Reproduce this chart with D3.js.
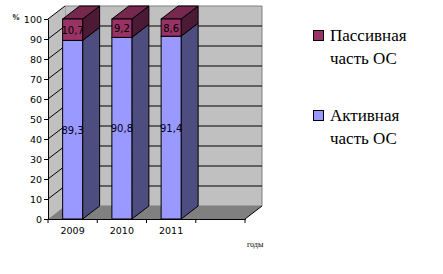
<!DOCTYPE html>
<html>
<head>
<meta charset="utf-8">
<script src="https://d3js.org/d3.v7.min.js"></script>
<style>
	body { margin:0; background:#fff; }
	svg { display:block; }
</style>
</head>
<body>
<div id="chart-area"></div>
<script>
// Data
var years = ["2009", "2010", "2011", ""];
var active = [89.3, 90.8, 91.4];
var passive = [10.7, 9.2, 8.6];
var activeLabels = ["89,3", "90,8", "91,4"];
var passiveLabels = ["10,7", "9,2", "8,6"];
var yTicks = [0, 10, 20, 30, 40, 50, 60, 70, 80, 90, 100];
var legendNames = [["Пассивная", "часть ОС"], ["Активная", "часть ОС"]];

var width = 443, height = 274;
var dx = 17, dy = -13; // 3D depth offset

var svg = d3.select("#chart-area")
	.append("svg")
		.attr("width", width)
		.attr("height", height);

var x = d3.scaleBand()
	.domain(years)
	.range([48, 245]);

var y = d3.scaleLinear()
	.domain([0, 100])
	.range([219, 19]);

var x0 = x.range()[0], x1 = x.range()[1];
var barW = 20;

function poly(pts) {
	return "M" + pts.map(function(p){ return p[0] + "," + p[1]; }).join("L") + "Z";
}

// back wall
svg.append("path")
	.attr("d", poly([[x0+dx, y(100)+dy], [x1+dx, y(100)+dy], [x1+dx, y(0)+dy], [x0+dx, y(0)+dy]]))
	.attr("fill", "#c0c0c0")
	.attr("stroke", "#808080");

// side wall
svg.append("path")
	.attr("d", poly([[x0, y(100)], [x0+dx, y(100)+dy], [x0+dx, y(0)+dy], [x0, y(0)]]))
	.attr("fill", "#c0c0c0");

// gridlines on the walls
yTicks.filter(function(t){ return t > 0 && t < 100; }).forEach(function(t){
	svg.append("line")
		.attr("x1", x0+dx).attr("x2", x1+dx)
		.attr("y1", y(t)+dy).attr("y2", y(t)+dy)
		.attr("stroke", "#000");
});
yTicks.filter(function(t){ return t > 0; }).forEach(function(t){
	svg.append("line")
		.attr("x1", x0).attr("x2", x0+dx)
		.attr("y1", y(t)).attr("y2", y(t)+dy)
		.attr("stroke", "#000");
});

// floor
svg.append("path")
	.attr("d", poly([[x0, y(0)], [x1, y(0)], [x1+dx, y(0)+dy], [x0+dx, y(0)+dy]]))
	.attr("fill", "#808080");
svg.append("line")
	.attr("x1", x1).attr("y1", y(0))
	.attr("x2", x1+dx).attr("y2", y(0)+dy)
	.attr("stroke", "#000");

// bars
years.slice(0, 3).forEach(function(yr, i){
	var bx = x(yr) + x.bandwidth()/2 - barW/2;
	var yA = y(active[i]), yT = y(active[i] + passive[i]), yB = y(0);
	var g = svg.append("g").attr("stroke", "#000").attr("stroke-width", 1);
	// active part
	g.append("path").attr("fill", "#4d4d80")
		.attr("d", poly([[bx+barW, yA], [bx+barW+dx, yA+dy], [bx+barW+dx, yB+dy], [bx+barW, yB]]));
	g.append("rect").attr("fill", "#9999ff")
		.attr("x", bx).attr("y", yA).attr("width", barW).attr("height", yB - yA);
	// passive part
	g.append("path").attr("fill", "#4d1a36")
		.attr("d", poly([[bx+barW, yT], [bx+barW+dx, yT+dy], [bx+barW+dx, yA+dy], [bx+barW, yA]]));
	g.append("path").attr("fill", "#77284f")
		.attr("d", poly([[bx, yT], [bx+barW, yT], [bx+barW+dx, yT+dy], [bx+dx, yT+dy]]));
	g.append("rect").attr("fill", "#993366")
		.attr("x", bx).attr("y", yT).attr("width", barW).attr("height", yA - yT);

	svg.append("text")
		.attr("x", bx + barW/2).attr("y", (yA + yB)/2 + 4)
		.attr("text-anchor", "middle")
		.attr("font-family", "DejaVu Sans").attr("font-size", "10px")
		.attr("fill", "#000020")
		.text(activeLabels[i]);
	svg.append("text")
		.attr("x", bx + barW/2).attr("y", (yA + yT)/2 + 4)
		.attr("text-anchor", "middle")
		.attr("font-family", "DejaVu Sans").attr("font-size", "10px")
		.attr("fill", "#000")
		.text(passiveLabels[i]);
});

// y axis
var yAxis = svg.append("g")
	.attr("transform", "translate(" + x0 + ",0)")
	.call(d3.axisLeft(y).tickValues(yTicks).tickSize(4).tickSizeOuter(0).tickPadding(2));
yAxis.selectAll("text")
	.attr("font-family", "DejaVu Sans").attr("font-size", "9.5px").attr("fill", "#000");

// x axis: labels at band centres, ticks at band edges
var xAxis = svg.append("g")
	.attr("transform", "translate(0," + y(0) + ")")
	.call(d3.axisBottom(x).tickSize(0).tickSizeOuter(0).tickPadding(8));
xAxis.selectAll("text")
	.attr("font-family", "DejaVu Sans").attr("font-size", "9.5px").attr("fill", "#000");
years.forEach(function(yr){
	svg.append("line")
		.attr("x1", x(yr)).attr("x2", x(yr))
		.attr("y1", y(0)).attr("y2", y(0) + 4)
		.attr("stroke", "#000");
});
svg.append("line")
	.attr("x1", x1).attr("x2", x1)
	.attr("y1", y(0)).attr("y2", y(0) + 4)
	.attr("stroke", "#000");

// axis titles
svg.append("text")
	.attr("x", 12).attr("y", 20)
	.attr("font-family", "Liberation Serif").attr("font-size", "8px").attr("font-weight", "bold")
	.text("%");
svg.append("text")
	.attr("x", 247).attr("y", 247)
	.attr("font-family", "Liberation Serif").attr("font-size", "8px")
	.text("годы");

// legend
var legendColors = ["#993366", "#9999ff"];
var legendTop = [30, 110];
legendNames.forEach(function(lines, i){
	svg.append("rect")
		.attr("x", 313.5).attr("y", legendTop[i] + 0.5)
		.attr("width", 10).attr("height", 10)
		.attr("fill", legendColors[i]).attr("stroke", "#000");
	lines.forEach(function(s, j){
		svg.append("text")
			.attr("x", 330).attr("y", legendTop[i] + 11 + j*23)
			.attr("font-family", "Liberation Serif").attr("font-size", "17px")
			.text(s);
	});
});
</script>
</body>
</html>
